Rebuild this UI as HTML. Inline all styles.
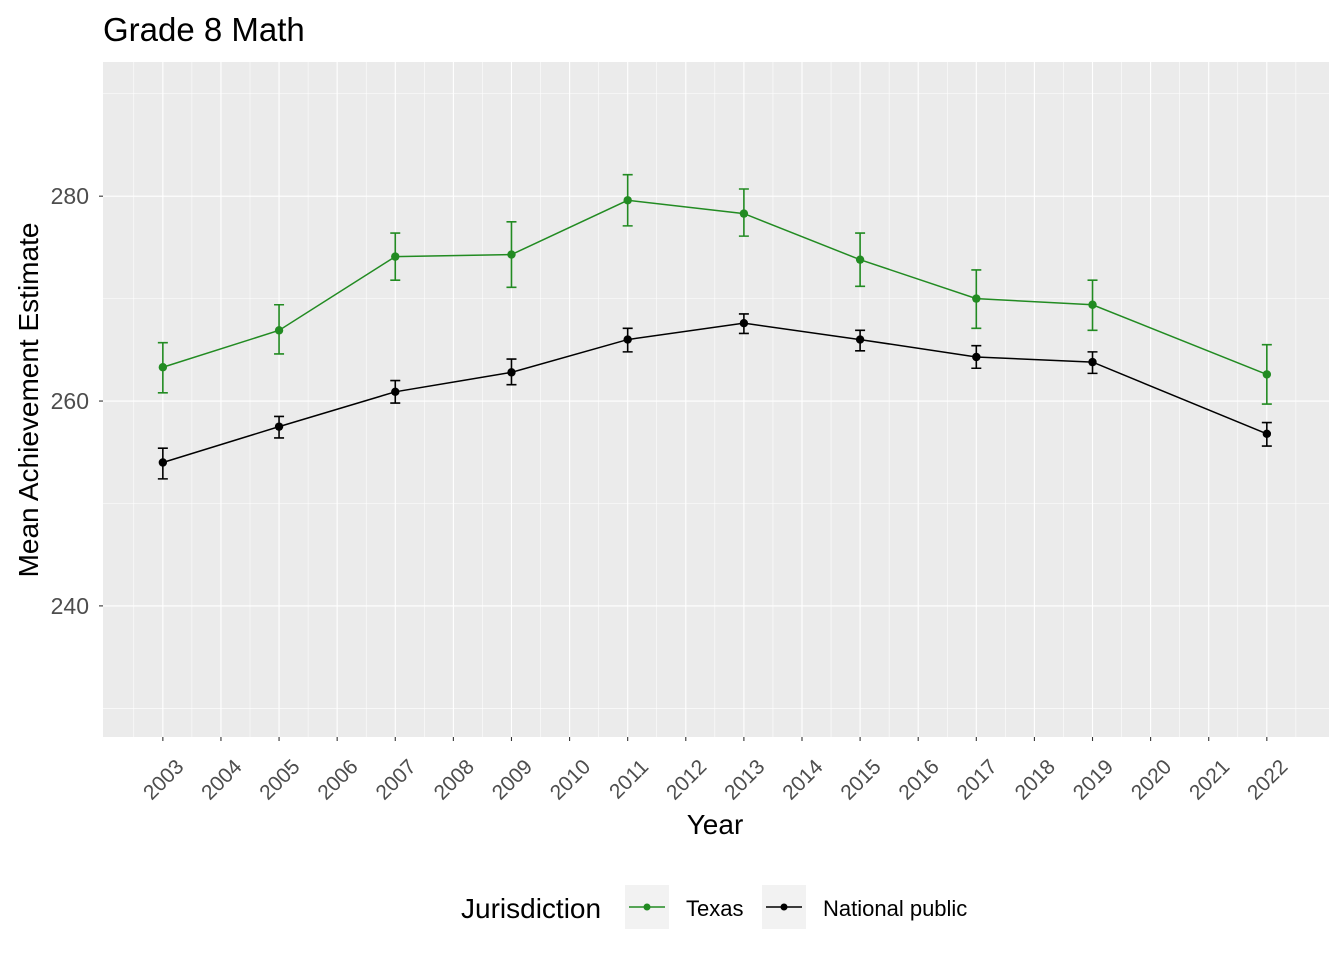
<!DOCTYPE html>
<html><head><meta charset="utf-8"><style>
body{margin:0;background:#fff;font-family:"Liberation Sans",Arial,sans-serif}
svg text{font-family:"Liberation Sans",Arial,sans-serif}
</style></head><body>
<svg id="chart" width="1344" height="960" xmlns="http://www.w3.org/2000/svg">
<text x="103" y="41" font-size="33" fill="#000">Grade 8 Math</text>
<rect x="103" y="62" width="1226" height="675" fill="#ebebeb"/>
<g id="grid"></g><g id="series"></g><g id="axes"></g>
<text transform="translate(38,400) rotate(-90)" text-anchor="middle" font-size="28" fill="#000">Mean Achievement Estimate</text>
<text x="715" y="834" text-anchor="middle" font-size="28" fill="#000">Year</text>
<g>
<text x="461" y="918" font-size="28" fill="#000">Jurisdiction</text>
<g>
<rect x="625" y="885" width="44" height="44" fill="#f2f2f2"/>
<line x1="629" y1="907" x2="665" y2="907" stroke="#228b22" stroke-width="1.5"/>
<circle cx="647" cy="907" r="3.5" fill="#228b22"/>
<text x="686" y="916" font-size="22" fill="#000">Texas</text></g>
<g>
<rect x="762" y="885" width="44" height="44" fill="#f2f2f2"/>
<line x1="766" y1="907" x2="802" y2="907" stroke="#000" stroke-width="1.5"/>
<circle cx="784" cy="907" r="3.5" fill="#000"/>
<text x="823" y="916" font-size="22" fill="#000">National public</text></g>
</g>
</svg>
<script>
const years=[2003,2005,2007,2009,2011,2013,2015,2017,2019,2022];
const texasMean=[263.3,266.9,274.1,274.3,279.6,278.3,273.8,270.0,269.4,262.6];
const texasLow=[260.8,264.6,271.8,271.1,277.1,276.1,271.2,267.1,266.9,259.7];
const texasHigh=[265.7,269.4,276.4,277.5,282.1,280.7,276.4,272.8,271.8,265.5];
const natMean=[254.0,257.5,260.9,262.8,266.0,267.6,266.0,264.3,263.8,256.8];
const natLow=[252.4,256.4,259.8,261.6,264.8,266.6,264.9,263.2,262.7,255.6];
const natHigh=[255.4,258.5,262.0,264.1,267.1,268.5,266.9,265.4,264.8,257.9];
const yTicks=[240,260,280];
const xTickYears=[2003,2004,2005,2006,2007,2008,2009,2010,2011,2012,2013,2014,2015,2016,2017,2018,2019,2020,2021,2022];

const NS="http://www.w3.org/2000/svg";
const X0=103,X1=1329,Y0=62,Y1=737;
const xmin=2001.97,xmax=2023.07,ymin=227.2,ymax=293.1;
const sx=v=>X0+(v-xmin)/(xmax-xmin)*(X1-X0);
const sy=v=>Y1-(v-ymin)/(ymax-ymin)*(Y1-Y0);
function mk(tag,attrs,parent){const e=document.createElementNS(NS,tag);for(const k in attrs)e.setAttribute(k,attrs[k]);parent.appendChild(e);return e;}
const grid=document.getElementById('grid'),ser=document.getElementById('series'),ax=document.getElementById('axes');
for(let i=0;i<=yTicks.length;i++){const v=yTicks[0]-10+i*20;const y=sy(v);if(y>Y0&&y<Y1){const l=mk('line',{x1:X0,x2:X1,y1:y,y2:y,stroke:'#fff','stroke-width':0.55},grid);}}
for(let i=0;i<=xTickYears.length;i++){const v=xTickYears[0]-0.5+i;const x=sx(v);if(x>X0&&x<X1){const l=mk('line',{x1:x,x2:x,y1:Y0,y2:Y1,stroke:'#fff','stroke-width':0.55},grid);}}
yTicks.forEach(v=>{const y=sy(v);
const l=mk('line',{x1:X0,x2:X1,y1:y,y2:y,stroke:'#fff','stroke-width':1.1},grid);

const t=mk('line',{x1:X0-4,x2:X0,y1:y,y2:y,stroke:'#333','stroke-width':1.1},ax);

const tx=mk('text',{x:X0-14,y:y+8,'text-anchor':'end','font-size':23,fill:'#4d4d4d'},ax);tx.textContent=v;
});
xTickYears.forEach(v=>{const x=sx(v);
const l=mk('line',{x1:x,x2:x,y1:Y0,y2:Y1,stroke:'#fff','stroke-width':1.1},grid);

const t=mk('line',{x1:x,x2:x,y1:Y1,y2:Y1+4,stroke:'#333','stroke-width':1.1},ax);

const tx=mk('text',{transform:`translate(${x+22},${Y1+31}) rotate(-45)`,'text-anchor':'end','font-size':21,fill:'#4d4d4d'},ax);tx.textContent=v;
});
function drawSeries(name,color,mean,lo,hi){
 const g=mk('g',{},ser);
 
 years.forEach((yr,i)=>{const x=sx(yr);
  const e=mk('path',{d:`M${x-5},${sy(hi[i])}H${x+5}M${x},${sy(hi[i])}V${sy(lo[i])}M${x-5},${sy(lo[i])}H${x+5}`,stroke:color,'stroke-width':1.6,fill:'none'},g);
  });
 const p=mk('polyline',{points:years.map((yr,i)=>sx(yr)+','+sy(mean[i])).join(' '),stroke:color,'stroke-width':1.5,fill:'none'},g);
 
 years.forEach((yr,i)=>{const c=mk('circle',{cx:sx(yr),cy:sy(mean[i]),r:4.2,fill:color},g);
  });
}
drawSeries('texas','#228b22',texasMean,texasLow,texasHigh);
drawSeries('national-public','#000',natMean,natLow,natHigh);
</script>
</body></html>
